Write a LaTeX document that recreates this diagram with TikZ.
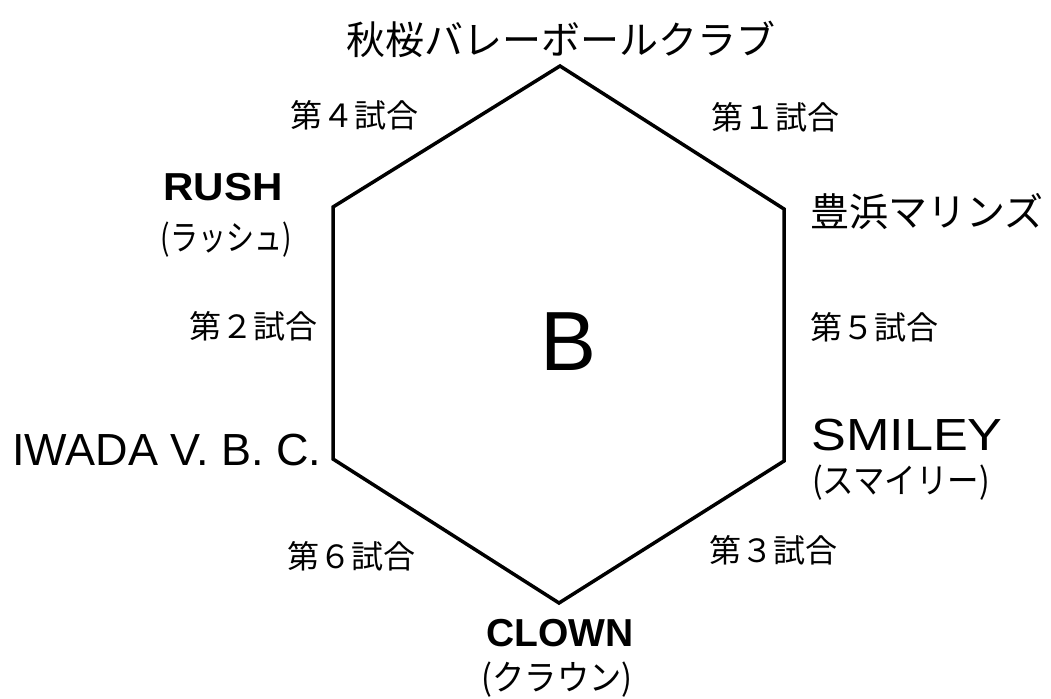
\documentclass[tikz,border=0pt]{standalone}
\usepackage{fontspec}
\newfontfamily\jp{Noto Sans CJK JP}
\newfontfamily\lat{Liberation Sans}
\begin{document}
\begin{tikzpicture}[x=1pt,y=-1pt,
  edge/.style={line width=3.5pt, line join=miter},
  matchlbl/.style={font=\jp\fontsize{32}{34}\selectfont, inner sep=0pt},
  teamjp/.style={font=\jp\fontsize{39}{41}\selectfont, inner sep=0pt},
  kana/.style={font=\jp\fontsize{35}{37}\selectfont, inner sep=0pt},
  teamlat/.style={font=\lat\fontsize{45}{47}\selectfont, inner sep=0pt},
  teambold/.style={font=\lat\bfseries\fontsize{39}{41}\selectfont, inner sep=0pt},
  big/.style={font=\lat\fontsize{84}{86}\selectfont, inner sep=0pt}]
\useasboundingbox (0,0) rectangle (1051,698);
% hexagon vertices
\coordinate (vt) at (560,66);
\coordinate (vur) at (784,209);
\coordinate (vlr) at (784,461);
\coordinate (vb) at (559,603);
\coordinate (vll) at (333,459);
\coordinate (vul) at (333,207);
\draw[edge] (vt) -- (vur) -- (vlr) -- (vb) -- (vll) -- (vul) -- cycle;
% center
\node[big] (b) at (569,342) {B};
% teams
\node[teamjp] (t1) at (561,39) {秋桜バレーボールクラブ};
\node[teamjp, anchor=west] (t2) at (810,212) {豊浜マリンズ};
\node[teambold] (t3) at (223,187) {\scalebox{1.08}[1]{RUSH}};
\node[kana] (t3k) at (226,240) {\scalebox{0.8}[1]{(ラッシュ)}};
\node[teamlat, anchor=west] (t4) at (12,450) {IWADA V. B. C.};
\node[teamlat, anchor=west] (t5) at (811,435) {\scalebox{1.16}[1]{SMILEY}};
\node[kana, anchor=west] (t5k) at (812,483) {\scalebox{0.9}[1]{(スマイリー)}};
\node[teambold] (t6) at (560,633) {CLOWN};
\node[kana] (t6k) at (557,680) {\scalebox{0.92}[1]{(クラウン)}};
% matches
\node[matchlbl] (m4) at (354,115) {第４試合};
\node[matchlbl] (m1) at (775,117) {第１試合};
\node[matchlbl] (m2) at (253,326) {第２試合};
\node[matchlbl] (m5) at (874,327) {第５試合};
\node[matchlbl] (m6) at (351,556) {第６試合};
\node[matchlbl] (m3) at (773,550) {第３試合};
\end{tikzpicture}
\end{document}
